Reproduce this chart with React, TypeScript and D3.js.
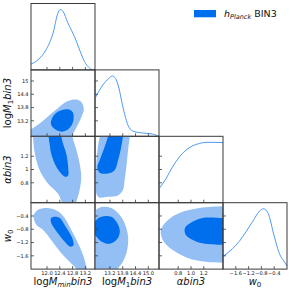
import React from "react";
import * as d3 from "d3";

// ---- parameter ranges & ticks ----
const logMminRange: [number, number] = [11.5, 13.5];
const logM1Range: [number, number] = [12.5, 15.5];
const alphaRange: [number, number] = [0.5, 1.5];
const w0Range: [number, number] = [-2, 0];

const logMminTicks = [12.0, 12.4, 12.8, 13.2];
const logM1Ticks = [13.2, 13.8, 14.4, 15.0];
const alphaTicks = [0.8, 1.0, 1.2];
const w0Ticks = [-1.6, -1.2, -0.8, -0.4];

const logMminXLabels = ["12.0", "12.4", "12.8", "13.2"];
const logM1XLabels = ["13.2", "13.8", "14.4", "15.0"];
const alphaXLabels = ["0.8", "1.0", "1.2"];
const w0XLabels = ["\u22121.6", "\u22121.2", "\u22120.8", "\u22120.4"];
const logMminYLabels = ["12.0", "12.4", "12.8", "13.2"];
const logM1YLabels = ["13.2", "13.8", "14.4", "15"];
const alphaYLabels = ["0.8", "1", "1.2"];
const w0YLabels = ["\u22121.6", "\u22121.2", "\u22120.8", "\u22120.4"];

// ---- 1D marginals ----
const logMminX = [11.5, 11.72, 11.97, 12.19, 12.34, 12.42, 12.5, 12.65, 12.86, 13.02, 13.17, 13.33, 13.45, 13.5];
const logMminP = [0.095, 0.167, 0.333, 0.61, 0.94, 1.0, 0.97, 0.78, 0.55, 0.33, 0.14, 0.03, 0.0, 0.0];

const logM1X = [12.5, 12.83, 13.15, 13.31, 13.46, 13.62, 13.78, 13.93, 14.09, 14.33, 14.72, 15.19, 15.43, 15.5];
const logM1P = [0.63, 0.83, 0.96, 1.0, 0.96, 0.8, 0.53, 0.31, 0.15, 0.08, 0.055, 0.038, 0.01, 0.0];

const alphaX = [0.5, 0.61, 0.71, 0.82, 0.92, 1.02, 1.13, 1.23, 1.36, 1.5];
const alphaP = [0.23, 0.4, 0.59, 0.76, 0.87, 0.94, 0.98, 1.0, 1.0, 0.995];

const w0X = [-2.0, -1.7, -1.49, -1.28, -1.07, -0.86, -0.74, -0.66, -0.55, -0.45, -0.34, -0.24, -0.08, 0.0];
const w0P = [0.21, 0.34, 0.46, 0.62, 0.79, 0.96, 1.0, 0.98, 0.87, 0.65, 0.43, 0.26, 0.12, 0.05];

// ---- 2D contours (outer = 95%, inner = 68%) ----
const c21Outer = [[11.3, 12.3], [11.3, 12.75], [11.51, 12.83], [11.82, 13.13], [12.24, 13.65], [12.55, 14.02], [12.76, 14.14], [12.97, 14.14], [13.09, 14.02], [13.15, 13.72], [13.07, 13.35], [12.92, 12.9], [12.81, 12.6], [12.75, 12.3]];
const c21Inner = [[12.13, 13.2], [12.24, 13.5], [12.45, 13.68], [12.71, 13.7], [12.81, 13.57], [12.83, 13.27], [12.76, 12.98], [12.6, 12.76], [12.45, 12.71], [12.24, 12.83], [12.13, 13.02]];

const c31Outer = [[11.55, 1.65], [11.56, 1.5], [11.62, 1.24], [11.77, 0.99], [12.03, 0.79], [12.34, 0.64], [12.47, 0.5], [12.55, 0.4], [12.85, 0.4], [12.91, 0.5], [13.02, 0.69], [13.07, 0.89], [13.02, 1.09], [12.92, 1.29], [12.81, 1.47], [12.76, 1.65]];
const c31Inner = [[12.04, 1.65], [12.05, 1.5], [12.08, 1.39], [12.13, 1.24], [12.29, 1.04], [12.5, 0.91], [12.6, 0.89], [12.66, 0.91], [12.66, 1.04], [12.6, 1.24], [12.5, 1.39], [12.45, 1.5], [12.44, 1.65]];

const c32Outer = [[12.74, 1.65], [12.72, 1.5], [12.64, 1.35], [12.56, 1.09], [12.55, 0.8], [12.56, 0.64], [12.7, 0.58], [13.11, 0.59], [13.58, 0.61], [13.81, 0.69], [13.89, 0.84], [13.97, 1.04], [14.05, 1.29], [14.13, 1.5], [14.15, 1.65]];
const c32Inner = [[13.15, 1.65], [13.11, 1.5], [12.95, 1.34], [12.72, 1.14], [12.61, 1.04], [12.72, 0.95], [13.11, 0.94], [13.42, 0.99], [13.58, 1.14], [13.73, 1.34], [13.81, 1.5], [13.83, 1.65]];

const c41Outer = [[11.58, -0.39], [11.62, -0.31], [11.72, -0.21], [12.03, -0.16], [12.34, -0.26], [12.55, -0.46], [12.76, -0.82], [12.97, -1.22], [13.13, -1.58], [13.23, -1.93], [13.26, -2.15], [12.95, -2.15], [12.92, -2.0], [12.76, -1.83], [12.45, -1.52], [12.13, -1.12], [11.88, -0.82], [11.67, -0.67], [11.6, -0.52]];
const c41Inner = [[12.12, -0.57], [12.13, -0.46], [12.24, -0.42], [12.4, -0.46], [12.55, -0.67], [12.71, -0.92], [12.81, -1.12], [12.82, -1.3], [12.71, -1.32], [12.55, -1.17], [12.34, -0.92], [12.19, -0.72]];

const c42Outer = [[12.3, -0.35], [12.56, -0.21], [12.8, -0.13], [13.26, -0.16], [13.58, -0.31], [13.89, -0.62], [14.05, -1.02], [14.01, -1.42], [13.81, -1.78], [13.58, -1.98], [13.45, -2.15], [12.3, -2.15]];
const c42Inner = [[12.4, -0.7], [12.56, -0.52], [12.8, -0.42], [13.26, -0.42], [13.5, -0.57], [13.66, -0.82], [13.61, -1.02], [13.42, -1.17], [13.11, -1.24], [12.8, -1.17], [12.56, -1.02], [12.4, -0.85]];

const c43Outer = [[1.65, -0.1], [1.5, -0.11], [1.13, -0.16], [0.82, -0.31], [0.64, -0.52], [0.53, -0.82], [0.56, -1.12], [0.71, -1.42], [0.97, -1.68], [1.23, -1.78], [1.5, -1.81], [1.65, -1.82]];
const c43Inner = [[1.65, -0.46], [1.5, -0.46], [1.18, -0.46], [1.03, -0.57], [0.92, -0.72], [0.9, -0.82], [0.92, -0.97], [1.03, -1.12], [1.18, -1.22], [1.5, -1.27], [1.65, -1.28]];

const legendLabel = "BIN3";

// ---- layout ----
const W = 291;
const LEFT = 31;
const TOP = 3.5;
const COLW = 64;
const ROWH = 66.4;
const DARK = "#006FED";
const LIGHT = "#93BFF5";
const LINE = "#4C9AF2";
const FRAME = "#3a3a3a";
const FONT = "DejaVu Sans";
const TICKFS = "5.1";

const ranges = [logMminRange, logM1Range, alphaRange, w0Range];
const ticks = [logMminTicks, logM1Ticks, alphaTicks, w0Ticks];
const xLabels = [logMminXLabels, logM1XLabels, alphaXLabels, w0XLabels];
const yLabels = [logMminYLabels, logM1YLabels, alphaYLabels, w0YLabels];
const marg = [
  [logMminX, logMminP],
  [logM1X, logM1P],
  [alphaX, alphaP],
  [w0X, w0P],
];
const contours: Record<string, number[][][]> = {
  "1-0": [c21Outer, c21Inner],
  "2-0": [c31Outer, c31Inner],
  "2-1": [c32Outer, c32Inner],
  "3-0": [c41Outer, c41Inner],
  "3-1": [c42Outer, c42Inner],
  "3-2": [c43Outer, c43Inner],
};

function AxisName({ k }: { k: number }) {
  if (k === 0)
    return (
      <>
        <tspan>log</tspan>
        <tspan fontStyle="italic">M</tspan>
        <tspan fontStyle="italic" fontSize="7" dy="2.2">min</tspan>
        <tspan fontStyle="italic" dy="-2.2">bin3</tspan>
      </>
    );
  if (k === 1)
    return (
      <>
        <tspan>log</tspan>
        <tspan fontStyle="italic">M</tspan>
        <tspan fontSize="7" dy="2.2">1</tspan>
        <tspan fontStyle="italic" dy="-2.2">bin3</tspan>
      </>
    );
  if (k === 2)
    return (
      <>
        <tspan fontStyle="italic">αbin3</tspan>
      </>
    );
  return (
    <>
      <tspan fontStyle="italic">w</tspan>
      <tspan fontSize="7" dy="2.2">0</tspan>
    </>
  );
}

export default function App() {
  const panels: React.ReactNode[] = [];
  const n = 4;
  for (let i = 0; i < n; i++) {
    for (let j = 0; j <= i; j++) {
      const x0 = LEFT + j * COLW;
      const y0 = TOP + i * ROWH;
      const xs = d3.scaleLinear().domain(ranges[j]).range([x0, x0 + COLW]);
      const id = `clip-${i}-${j}`;
      const items: React.ReactNode[] = [];
      if (i === j) {
        const ys = d3.scaleLinear().domain([0, 1.1]).range([y0 + ROWH, y0]);
        const [mx, mp] = marg[i];
        const pts = mx.map((v, k) => [v, mp[k]] as [number, number]);
        const line = d3
          .line<[number, number]>()
          .x((d) => xs(d[0]))
          .y((d) => ys(d[1]))
          .curve(d3.curveMonotoneX);
        items.push(
          <path key="l" d={line(pts) || ""} fill="none" stroke={LINE} strokeWidth={1} clipPath={`url(#${id})`} />
        );
      } else {
        const ys = d3.scaleLinear().domain(ranges[i]).range([y0 + ROWH, y0]);
        const area = d3
          .line<number[]>()
          .x((d) => xs(d[0]))
          .y((d) => ys(d[1]))
          .curve(d3.curveCatmullRomClosed.alpha(0.5));
        const [outer, inner] = contours[`${i}-${j}`];
        items.push(
          <g key="c" clipPath={`url(#${id})`}>
            <path d={area(outer) || ""} fill={LIGHT} />
            <path d={area(inner) || ""} fill={DARK} />
          </g>
        );
      }
      ticks[j].forEach((t, k) => {
        items.push(
          <line key={`xt${k}`} x1={xs(t)} x2={xs(t)} y1={y0 + ROWH} y2={y0 + ROWH - 3} stroke={FRAME} strokeWidth={0.8} />
        );
      });
      if (i > 0) {
        const yv = d3.scaleLinear().domain(ranges[i]).range([y0 + ROWH, y0]);
        ticks[i].forEach((t, k) => {
          items.push(
            <line key={`yt${k}`} x1={x0} x2={x0 + 3} y1={yv(t)} y2={yv(t)} stroke={FRAME} strokeWidth={0.8} />
          );
        });
        if (j === 0) {
          ticks[i].forEach((t, k) => {
            items.push(
              <text key={`yl${k}`} x={LEFT - 2.5} y={yv(t)} dy="0.35em" textAnchor="end" fontSize={TICKFS} fontFamily={FONT} fill="#111">
                {yLabels[i][k]}
              </text>
            );
          });
        }
      }
      if (i === n - 1) {
        ticks[j].forEach((t, k) => {
          items.push(
            <text key={`xl${k}`} x={xs(t)} y={y0 + ROWH + 6.2} textAnchor="middle" fontSize={TICKFS} fontFamily={FONT} fill="#111">
              {xLabels[j][k]}
            </text>
          );
        });
      }
      items.push(
        <rect key="f" x={x0} y={y0} width={COLW} height={ROWH} fill="none" stroke={FRAME} strokeWidth={1} />
      );
      panels.push(
        <g key={`p${i}${j}`}>
          <defs>
            <clipPath id={id}>
              <rect x={x0} y={y0} width={COLW} height={ROWH} />
            </clipPath>
          </defs>
          {items}
        </g>
      );
    }
  }

  const axisBottom = [0, 1, 2, 3].map((k) => (
    <text key={`bx${k}`} x={LEFT + k * COLW + COLW / 2} y={284.6} textAnchor="middle" fontSize="10" fontFamily={FONT} fill="#111">
      <AxisName k={k} />
    </text>
  ));
  const axisLeft = [1, 2, 3].map((k) => {
    const cy = TOP + k * ROWH + ROWH / 2;
    return (
      <text key={`ly${k}`} transform={`translate(11,${cy}) rotate(-90)`} textAnchor="middle" fontSize="10" fontFamily={FONT} fill="#111">
        <AxisName k={k} />
      </text>
    );
  });

  return (
    <svg width={W} height={W} style={{ position: "absolute", left: 0, top: 0, background: "#fff" }}>
      <rect x={0} y={0} width={W} height={W} fill="#fff" />
      {panels}
      {axisBottom}
      {axisLeft}
      <rect x={194} y={10} width={22} height={7.3} fill={DARK} />
      <text x={224} y={17} fontSize="9.5" fontFamily={FONT} fill="#111">
        <tspan fontStyle="italic">h</tspan>
        <tspan fontStyle="italic" fontSize="6.5" dy="1.8">Planck</tspan>
        <tspan dy="-1.8"> {legendLabel}</tspan>
      </text>
    </svg>
  );
}
